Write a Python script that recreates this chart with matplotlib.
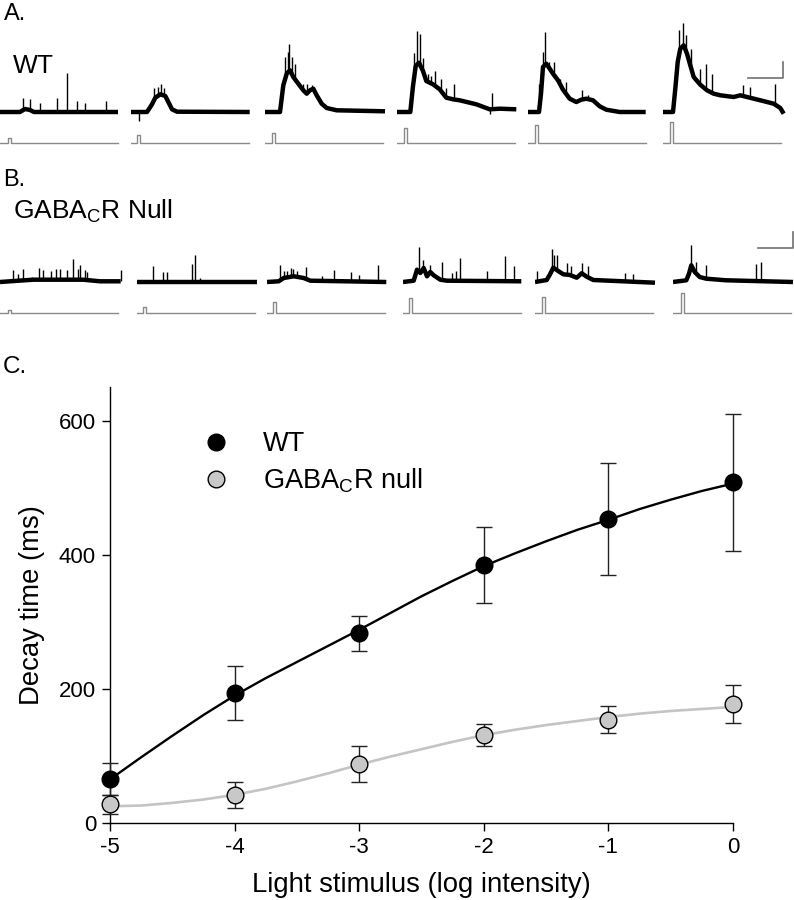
import numpy as np
import matplotlib
matplotlib.use('Agg')
import matplotlib.pyplot as plt

plt.rcParams.update({'font.family': 'Liberation Sans',
                     'mathtext.fontset': 'custom',
                     'mathtext.rm': 'Liberation Sans',
                     'axes.unicode_minus': False})

################################################################################
# DATA
################################################################################

# Panel C: decay time vs light stimulus
log_intensity = [-5, -4, -3, -2, -1, 0]
wt_decay = [65, 194, 283, 385, 453, 508]
wt_err = [24, 40, 26, 57, 84, 102]
null_decay = [28, 42, 88, 131, 154, 177]
null_err = [14, 19, 27, 16, 20, 28]

# fitted curves, sampled every 0.25 log unit
fit_x = [-5, -4.75, -4.5, -4.25, -4, -3.75, -3.5, -3.25, -3, -2.75, -2.5,
         -2.25, -2, -1.75, -1.5, -1.25, -1, -0.75, -0.5, -0.25, 0]
wt_fit = [65, 98, 130, 161, 190, 216, 240, 264, 288, 313, 338,
          361, 383, 402, 420, 437, 452, 468, 482, 495, 506]
null_fit = [25, 26, 30, 35, 42, 51, 62, 74, 87, 99, 110,
            121, 131, 139, 146, 152, 158, 163, 167, 170, 173]

# Panels A/B: example traces. Time in a.u., amplitude in a.u. above baseline.
# Each trace = slow envelope + individual fast spikes.
wt_env_t = [
    [0, 20, 25, 30, 34, 118],
    [0, 16, 21, 24.3, 29.3, 34.3, 37.7, 41, 46, 118.7],
    [0, 15, 18.3, 21.7, 25, 28.3, 33.3, 38.3, 41.7, 45, 48.3, 51.7, 56.7, 61.7, 71.7, 120],
    [0, 13.3, 16, 18.7, 22, 26, 29.3, 36, 42.7, 49.3, 56, 62.7, 79.3, 92.7, 102.7, 119.3],
    [0, 11, 13, 15, 18.3, 21.7, 25, 30, 35, 41.7, 48.3, 53.3, 58.3, 65, 71.7, 78.3, 91.7, 117.7],
    [0, 10, 12.3, 14.7, 17.3, 20.7, 24, 27.3, 30.7, 37.3, 44, 50.7, 57.3, 70.7, 77.3, 84, 97.3, 110.7, 117.3, 120.7],
]
wt_env_a = [
    [0, 0, 3, 2, 0, 0],
    [0, 0, 7.7, 14.3, 17.7, 16, 9.3, 2.7, 0.3, 0],
    [0, 0, 26.7, 38.3, 41.7, 35, 28.3, 21.7, 18.3, 21.7, 23.3, 16.7, 8.3, 4, 1.7, 0.7],
    [0, 0, 26, 46, 49.3, 41, 31, 27.7, 22.7, 14.3, 12.7, 11.7, 7.7, 2.7, 3.3, 2.7],
    [0, 0, 18.3, 45, 48.3, 43.3, 38.3, 31.7, 22.3, 13.3, 10, 12.3, 13.3, 11.7, 5.7, 2.3, 0, 0],
    [0, 0, 23.3, 50, 63.3, 66.7, 58.3, 46.7, 35, 27.3, 21.7, 18.3, 16.7, 15, 16.7, 15, 11.7, 8.3, 4, -1.7],
]
wt_spk_t = [
    [23.3, 30, 40, 57.3, 66.7, 77.3, 85, 106],
    [7.7, 23.3, 26.7, 30, 32.7],
    [20, 23.3, 24.3, 26.7, 30, 38.3, 42.3, 46.7],
    [16.7, 20, 23, 26, 31, 34.3, 38.3, 44.3, 49.3, 56.7, 92.7, 95.3],
    [10.7, 15, 17.3, 21, 25.7, 31.7, 38.3, 54.3, 60],
    [15.7, 20, 23, 28, 37.3, 43, 49, 80, 87.3, 112.3],
]
wt_spk_a = [
    [14.3, 12.7, 9, 14.3, 39.3, 11, 9, 11],
    [-9, 23.7, 25, 28.3, 23.7],
    [55, 60, 68.3, 55, 48.3, 28.3, 28.3, 26.7],
    [59.3, 81, 77.7, 54.3, 37.7, 36, 41, 32.7, 24.3, 27.7, -2.3, 19.3],
    [28.3, 60, 80, 50, 50, 33.3, 30, 21.7, 16.7],
    [81.7, 89.3, 76.7, 63.3, 43.3, 48.3, 38.3, 26.7, 25, 28.3],
]

null_env_t = [
    [0, 10, 33.3, 83.3, 100, 120.7],
    [0, 120],
    [0, 11.7, 16.7, 26.7, 36.7, 43.3, 119.3],
    [0, 10.7, 14, 17.3, 20.7, 24, 27.3, 30.7, 37.3, 44, 118.3],
    [0, 11.7, 15, 18.3, 21.7, 28.3, 35, 41.7, 46.7, 51.7, 58.3, 120],
    [0, 13.3, 16, 18.3, 21.7, 26.7, 33.3, 53.3, 120],
]
null_env_a = [
    [0, 0.7, 2.3, 2.3, 0.7, 0.7],
    [0, 0],
    [0, 0.7, 4, 5.7, 4, 1.3, 0],
    [0, 1.3, 12.3, 9, 14, 5.7, 10, 6.7, 2.3, 1.3, 0.7],
    [0, 2, 7.7, 14.3, 12, 7.7, 7, 4.3, 8.7, 5.3, 2, -0.7],
    [0, 1.7, 8.3, 16.7, 10, 5, 3.3, 1.7, 0],
]
null_spk_t = [
    [13.3, 18.3, 23.3, 31.7, 39.3, 43.3, 51, 56, 60, 66.7, 72.7, 78.3, 80, 85, 87.3, 120.7],
    [16, 26, 30, 55, 58, 63.3],
    [13.3, 17.3, 20, 24, 25.7, 30, 39, 55, 66.7, 84.3, 91.7, 110.7],
    [16.3, 20, 27.3, 39, 49, 53, 57.3, 84, 102, 110.7],
    [1.7, 16.7, 19.3, 22.3, 31.7, 36, 46.7, 52.7, 90, 98.3],
    [18.3, 23.3, 33.3, 83.3, 88.3],
]
null_spk_a = [
    [12.3, 8.3, 13.3, 5, 14.3, 12.3, 11, 13.3, 13.3, 11.7, 23.3, 13.3, 16.7, 12.3, 10, 12.3],
    [16.3, 9.7, 9.7, 18.3, 27.3, 4],
    [17.3, 11.3, 10.7, 14, 13.3, 10.7, 14.7, 5.7, 12.3, 10, 7.3, 17.3],
    [34.7, 22.3, 16.7, 19.7, 9, 10.7, 24, 10.7, 25.7, 15.7],
    [11, 32.7, 26.7, 26.7, 19.3, 16, 19.3, 16, 9.3, 7.7],
    [36.7, 20, 16.7, 18.3, 20],
]

# light step under each trace: onset, amplitude (grows with intensity)
wt_stim_on = [8, 6, 7, 7, 7, 7]
wt_stim_amp = [5, 8, 10, 15, 18, 21]
null_stim_on = [8, 6, 6, 6, 7, 8]
null_stim_amp = [3, 6, 11, 15, 16, 20]
stim_len = 118

# left edge (pixels) of each trace
wt_left = [0, 131, 265, 397, 528, 663]
null_left = [0, 137, 267, 403, 535, 673]

################################################################################
# PLOTTING
################################################################################

W, H = 794, 900
fig = plt.figure(figsize=(W / 100, H / 100), dpi=100)


def px_rect(x0, y0, x1, y1):
    return [x0 / W, 1 - y1 / H, (x1 - x0) / W, (y1 - y0) / H]


def draw_trace(ax, et, ea, st, sa, on, amp):
    ax.plot(et, ea, color='black', lw=3.2, solid_joinstyle='round',
            solid_capstyle='butt')
    base = np.interp(st, et, ea)
    ax.vlines(st, base, sa, color='black', lw=1.0)
    s0 = -31
    ax.plot([0, on, on, on + 3, on + 3, stim_len],
            [s0, s0, s0 + amp, s0 + amp, s0, s0], color='#8a8a8a', lw=1.0)


def scale_bar(ax):
    ax.plot([85, 120, 120], [34, 34, 50], color='#707070', lw=1.2)


# Panel A
for i in range(6):
    ax = fig.add_axes(px_rect(wt_left[i], 15, wt_left[i] + 124, 150))
    ax.set_xlim(0, 124)
    ax.set_ylim(-38, 97)
    ax.axis('off')
    draw_trace(ax, wt_env_t[i], wt_env_a[i], wt_spk_t[i], wt_spk_a[i],
               wt_stim_on[i], wt_stim_amp[i])
    if i == 5:
        scale_bar(ax)

# Panel B
for i in range(6):
    ax = fig.add_axes(px_rect(null_left[i], 215, null_left[i] + 124, 320))
    ax.set_xlim(0, 124)
    ax.set_ylim(-38, 67)
    ax.axis('off')
    draw_trace(ax, null_env_t[i], null_env_a[i], null_spk_t[i], null_spk_a[i],
               null_stim_on[i], null_stim_amp[i])
    if i == 5:
        scale_bar(ax)

# Panel labels
fig.text(4 / W, 1 - 20 / H, 'A.', fontsize=17, va='baseline')
fig.text(13 / W, 1 - 72.7 / H, 'WT', fontsize=19, va='baseline')
fig.text(3 / W, 1 - 186 / H, 'B.', fontsize=17, va='baseline')
fig.text(13 / W, 1 - 218.3 / H, r'GABA$_\mathrm{C}$R Null', fontsize=19, va='baseline')
fig.text(3 / W, 1 - 372.7 / H, 'C.', fontsize=17.5, va='baseline')

# Panel C
axc = fig.add_axes(px_rect(110, 387, 733, 823))
axc.plot(fit_x, wt_fit, color='black', lw=1.7, zorder=2, clip_on=False)
axc.plot(fit_x, null_fit, color='#c4c4c4', lw=1.9, zorder=2, clip_on=False)
for y, e in [(wt_decay, wt_err), (null_decay, null_err)]:
    eb = axc.errorbar(log_intensity, y, yerr=e, fmt='none', ecolor='#222222',
                      elinewidth=1.0, capsize=6, capthick=1.0, zorder=3)
    for art in eb.get_children():
        art.set_clip_on(False)
axc.plot(log_intensity, wt_decay, 'o', ms=12, mfc='black', mec='black',
         label='WT', zorder=4, clip_on=False)
axc.plot(log_intensity, null_decay, 'o', ms=12, mfc='#c8c8c8', mec='black',
         mew=1.0, label=r'GABA$_\mathrm{C}$R null', zorder=4, clip_on=False)

axc.set_xlim(-5, 0)
axc.set_ylim(0, 650)
axc.set_xticks(log_intensity)
axc.set_yticks([0, 200, 400, 600])
for s in ['top', 'right']:
    axc.spines[s].set_visible(False)
for s in ['left', 'bottom']:
    axc.spines[s].set_linewidth(1.0)
axc.tick_params(direction='out', length=6, width=1.0, pad=4)
for lab in axc.get_xticklabels() + axc.get_yticklabels():
    lab.set_fontsize(16)
axc.set_xlabel('Light stimulus (log intensity)', fontsize=19.8, labelpad=10)
axc.set_ylabel('Decay time (ms)', fontsize=19.8, labelpad=10)
axc.legend(loc='upper left', bbox_to_anchor=(0.1485, 0.899), frameon=False,
           fontsize=19.5, handlelength=1.0, handletextpad=1.24,
           labelspacing=0.35, borderpad=0, borderaxespad=0, numpoints=1)

fig.savefig('out.png', dpi=100, facecolor='white')
